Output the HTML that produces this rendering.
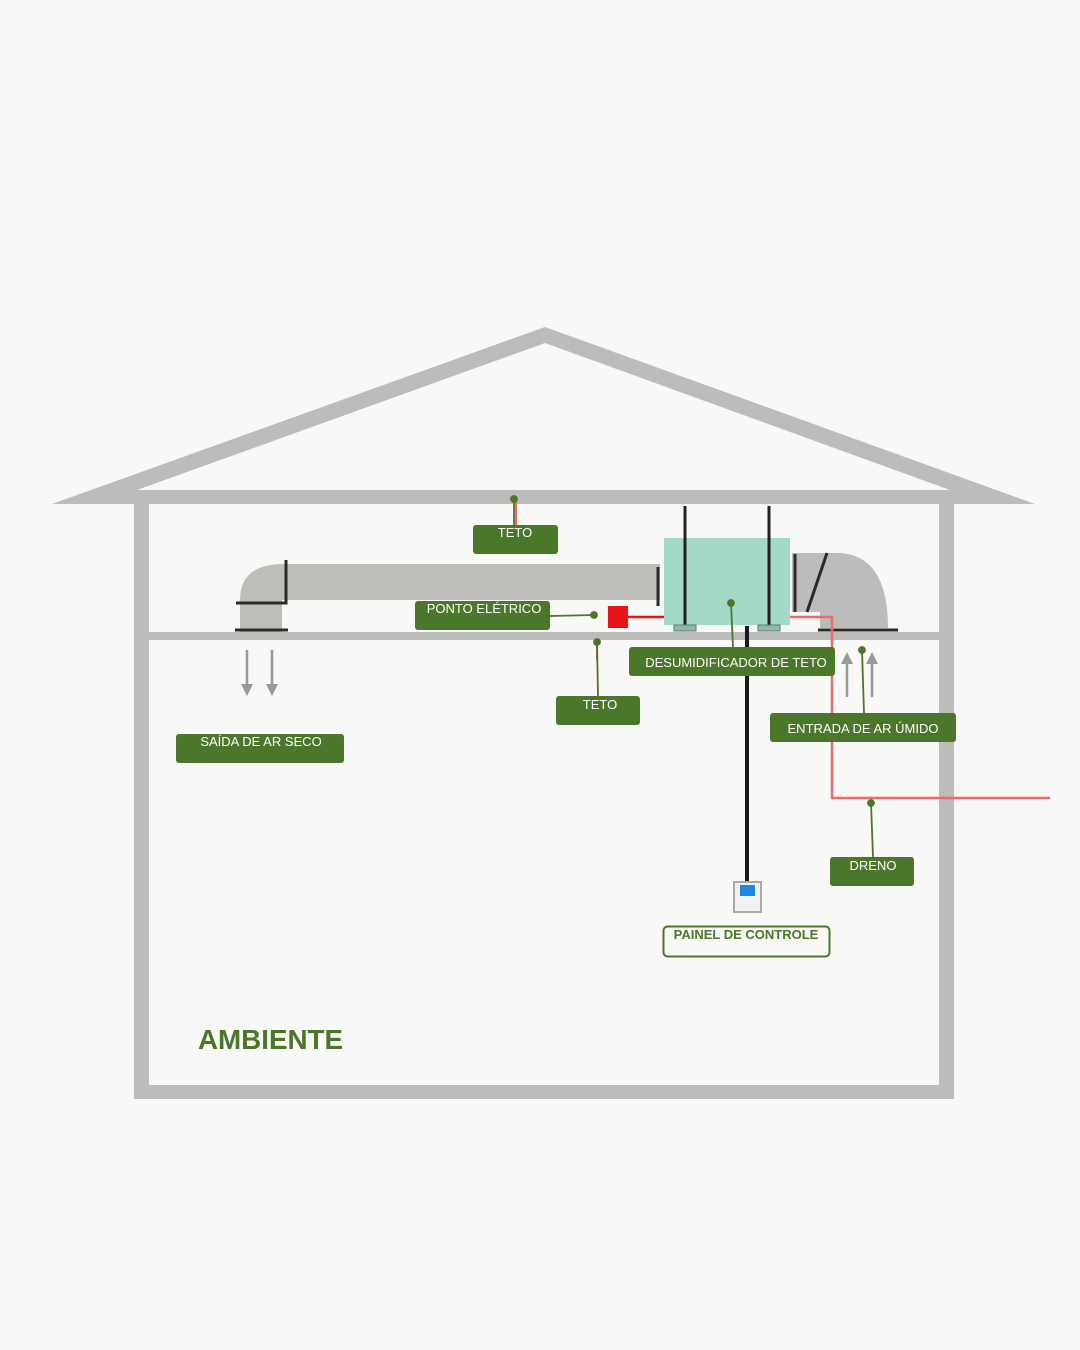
<!DOCTYPE html>
<html><head><meta charset="utf-8"><style>
html,body{margin:0;padding:0;background:#f8f8f7;}
svg{display:block}
.lb{font-family:"Liberation Sans",sans-serif;font-size:13px;fill:#fff;}
</style></head><body>
<svg width="1080" height="1350" viewBox="0 0 1080 1350" xmlns="http://www.w3.org/2000/svg">
<rect width="1080" height="1350" fill="#f8f8f7"/>
<polygon points="52,504 545,327 1035,504" fill="#bcbcbb"/>
<polygon points="137,490 545,343 950,490" fill="#f8f8f7"/>
<rect x="134" y="500" width="15" height="598" fill="#bcbcbb"/>
<rect x="939" y="500" width="15" height="598" fill="#bcbcbb"/>
<rect x="134" y="1085" width="820" height="14" fill="#bcbcbb"/>
<rect x="148" y="632" width="791" height="8" fill="#bcbcbb"/>
<rect x="287" y="564" width="373" height="36" fill="#bdbdba"/>
<path d="M240,640 L240,600 Q240,564 284,564 L287,564 L287,600 L282,600 L282,640 Z" fill="#bdbdba"/>
<path d="M286,560 L286,603 L236,603" stroke="#2a2a2a" stroke-width="3" fill="none"/>
<line x1="235" y1="630" x2="288" y2="630" stroke="#2a2a2a" stroke-width="3"/>
<line x1="658" y1="567" x2="658" y2="606" stroke="#2a2a2a" stroke-width="3"/>
<g stroke="#999" stroke-width="2.5" fill="#999">
<line x1="247" y1="650" x2="247" y2="688"/><polygon points="241,684 253,684 247,696" stroke="none"/>
<line x1="272" y1="650" x2="272" y2="688"/><polygon points="266,684 278,684 272,696" stroke="none"/>
<line x1="847" y1="660" x2="847" y2="697"/><polygon points="841,664 853,664 847,652" stroke="none"/>
<line x1="872" y1="660" x2="872" y2="697"/><polygon points="866,664 878,664 872,652" stroke="none"/>
</g>
<rect x="664" y="538" width="126" height="87" fill="#a3d9c6"/>
<line x1="685" y1="506" x2="685" y2="628" stroke="#222" stroke-width="3"/>
<line x1="769" y1="506" x2="769" y2="628" stroke="#222" stroke-width="3"/>
<rect x="674" y="625" width="22" height="6" fill="#8fb8a8" stroke="#5c7a6e" stroke-width="1"/>
<rect x="758" y="625" width="22" height="6" fill="#8fb8a8" stroke="#5c7a6e" stroke-width="1"/>
<path d="M792,553 L840,553 Q888,556 888,628 L820,628 L820,612 L792,612 Z" fill="#bdbcbb"/>
<line x1="795" y1="554" x2="795" y2="612" stroke="#2a2a2a" stroke-width="3"/>
<line x1="827" y1="553" x2="807" y2="612" stroke="#2a2a2a" stroke-width="3"/>
<line x1="818" y1="630" x2="898" y2="630" stroke="#2a2a2a" stroke-width="3"/>
<rect x="608" y="606" width="20" height="22" fill="#e8141a"/>
<line x1="628" y1="617" x2="664" y2="617" stroke="#e8141a" stroke-width="2.5"/>
<polyline points="790,617 832,617 832,798 1050,798" stroke="#ee6a6a" stroke-width="2.5" fill="none"/>
<line x1="516" y1="500" x2="516" y2="525" stroke="#ee6a6a" stroke-width="2"/>
<line x1="597" y1="642" x2="597" y2="660" stroke="#ee6a6a" stroke-width="2"/>
<line x1="747" y1="626" x2="747" y2="884" stroke="#1a1a1a" stroke-width="4"/>
<rect x="734" y="882" width="27" height="30" fill="#f2f2f2" stroke="#aaa" stroke-width="2"/>
<rect x="740" y="885" width="15" height="11" fill="#1e88e5"/>
<g stroke="#4a7729" stroke-width="1.8" fill="#4a7729">
<line x1="514" y1="499" x2="514" y2="525"/><circle cx="514" cy="499" r="3"/>
<line x1="550" y1="616" x2="594" y2="615"/><circle cx="594" cy="615" r="3"/>
<line x1="597" y1="642" x2="598" y2="696"/><circle cx="597" cy="642" r="3"/>
<line x1="731" y1="603" x2="733" y2="647"/><circle cx="731" cy="603" r="3"/>
<line x1="862" y1="650" x2="864" y2="713"/><circle cx="862" cy="650" r="3"/>
<line x1="871" y1="803" x2="873" y2="857"/><circle cx="871" cy="803" r="3"/>
</g>
<g fill="#4a7729">
<rect x="473" y="525" width="85" height="29" rx="3"/>
<rect x="415" y="601" width="135" height="29" rx="3"/>
<rect x="629" y="647" width="206" height="29" rx="3"/>
<rect x="556" y="696" width="84" height="29" rx="3"/>
<rect x="176" y="734" width="168" height="29" rx="3"/>
<rect x="770" y="713" width="186" height="29" rx="3"/>
<rect x="830" y="857" width="84" height="29" rx="3"/>
</g>
<text class="lb" x="515" y="537" text-anchor="middle">TETO</text>
<text class="lb" x="484" y="613" text-anchor="middle">PONTO ELÉTRICO</text>
<text class="lb" x="736" y="667" text-anchor="middle">DESUMIDIFICADOR DE TETO</text>
<text class="lb" x="600" y="709" text-anchor="middle">TETO</text>
<text class="lb" x="261" y="746" text-anchor="middle">SAÍDA DE AR SECO</text>
<text class="lb" x="863" y="733" text-anchor="middle">ENTRADA DE AR ÚMIDO</text>
<text class="lb" x="873" y="870" text-anchor="middle">DRENO</text>
<rect x="663.5" y="926.5" width="166" height="30" rx="4" fill="#f8f8f7" stroke="#4a7729" stroke-width="2"/>
<text x="746" y="939" text-anchor="middle" font-family="Liberation Sans,sans-serif" font-size="13" font-weight="bold" fill="#4a7729">PAINEL DE CONTROLE</text>
<text x="198" y="1049" font-family="Liberation Sans,sans-serif" font-size="28" font-weight="bold" fill="#4a7729" textLength="145" lengthAdjust="spacingAndGlyphs">AMBIENTE</text>
</svg>
</body></html>
